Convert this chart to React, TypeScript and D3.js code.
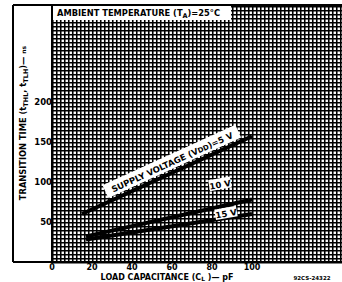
import * as d3 from "d3";

// load capacitance (pF) vs transition time (ns)
const capFive = [15, 100];
const timeFive = [60, 157];
const capTen = [17, 100];
const timeTen = [32, 78];
const capFifteen = [17, 100];
const timeFifteen = [28, 60];

const xTicks = [0, 20, 40, 60, 80, 100];
const yTicks = [50, 100, 150, 200];

const W = 342;
const H = 282;
const plot = { left: 52, right: 342, top: 5, bottom: 262 };
const FONT = "'DejaVu Sans', 'Liberation Sans', sans-serif";

export default function App() {
  const x = d3.scaleLinear().domain([0, 145]).range([plot.left, plot.right]);
  const y = d3.scaleLinear().domain([0, 321]).range([plot.bottom, plot.top]);

  const gridX = d3.range(0, 146, 2);
  const gridY = d3.range(0, 321, 5);

  const line = d3
    .line<[number, number]>()
    .x((d) => x(d[0]))
    .y((d) => y(d[1]));

  const series = [
    { cap: capFive, time: timeFive },
    { cap: capTen, time: timeTen },
    { cap: capFifteen, time: timeFifteen },
  ];

  const angle = (cap: number[], time: number[]) =>
    (Math.atan2(y(time[1]) - y(time[0]), x(cap[1]) - x(cap[0])) * 180) / Math.PI;

  const a5 = angle(capFive, timeFive);
  const at5 = (c: number) => timeFive[0] + ((c - capFive[0]) / (capFive[1] - capFive[0])) * (timeFive[1] - timeFive[0]);

  return (
    <svg
      width={W}
      height={H}
      style={{ position: "fixed", left: 0, top: 0, background: "#fff" }}
      fontFamily={FONT}
      fontWeight="bold"
    >
      {/* dense grid */}
      <g stroke="#000">
        {gridX.map((v) => (
          <line key={"gx" + v} x1={x(v) + 0.75} x2={x(v) + 0.75} y1={plot.top} y2={plot.bottom} strokeWidth={1.6} />
        ))}
        {gridY.map((v) => (
          <line key={"gy" + v} x1={plot.left} x2={plot.right} y1={Math.round(y(v)) + 0.75} y2={Math.round(y(v)) + 0.75} strokeWidth={1.6} />
        ))}
      </g>

      {/* frame */}
      <g stroke="#000" strokeWidth={1.5} shapeRendering="crispEdges">
        <line x1={13} x2={W} y1={plot.top} y2={plot.top} />
        <line x1={13} x2={13} y1={plot.top} y2={plot.bottom} />
        <line x1={13} x2={W} y1={plot.bottom} y2={plot.bottom} />
        <line x1={plot.left} x2={plot.left} y1={plot.top} y2={plot.bottom} />
      </g>

      {/* top condition label */}
      <rect x={plot.left + 1} y={plot.top + 1} width={178} height={14} fill="#fff" />
      <text x={57} y={16} fontSize={8.3}>
        AMBIENT TEMPERATURE (T<tspan fontSize={6.5} dy={2}>A</tspan>
        <tspan dy={-2}>)=25°C</tspan>
      </text>

      {/* curves */}
      {series.map((s, i) => (
        <path
          key={i}
          d={line(s.cap.map((c, j) => [c, s.time[j]] as [number, number])) ?? ""}
          stroke="#000"
          strokeWidth={4}
          fill="none"
        />
      ))}

      {/* curve labels */}
      <g transform={`translate(${x(60)},${y(at5(60)) - 11}) rotate(${a5})`}>
        <rect x={-73} y={-7.5} width={146} height={14} fill="#fff" />
        <text textAnchor="middle" y={3.5} fontSize={8.5}>
          SUPPLY VOLTAGE (V<tspan fontSize={7}>DD</tspan>)=5 V
        </text>
      </g>
      <g transform={`translate(${x(84)},${y(97)}) rotate(-10)`}>
        <rect x={-11} y={-6} width={22} height={11} fill="#fff" />
        <text textAnchor="middle" y={3.5} fontSize={8.5}>
          10 V
        </text>
      </g>
      <g transform={`translate(${x(87)},${y(61)}) rotate(-10)`}>
        <rect x={-11} y={-5.5} width={22} height={10.5} fill="#fff" />
        <text textAnchor="middle" y={3.5} fontSize={8.5}>
          15 V
        </text>
      </g>

      {/* axes labels */}
      {xTicks.map((v) => (
        <text key={"xt" + v} x={x(v)} y={270} textAnchor="middle" fontSize={8}>
          {v}
        </text>
      ))}
      {yTicks.map((v) => (
        <text key={"yt" + v} x={plot.left} y={y(v) + 3} textAnchor="end" fontSize={8.5}>
          {v}
        </text>
      ))}

      <text transform={`translate(26,123) rotate(-90)`} textAnchor="middle" fontSize={8.3}>
        TRANSITION TIME (t<tspan fontSize={6.5} dy={2}>THL</tspan>
        <tspan dy={-2}>, t</tspan>
        <tspan fontSize={6.5} dy={2}>TLH</tspan>
        <tspan dy={-2}>)— </tspan>
        <tspan fontSize={6}>ns</tspan>
      </text>

      <text x={167} y={280} textAnchor="middle" fontSize={8}>
        LOAD CAPACITANCE (C<tspan fontSize={6} dy={1}>L</tspan>
        <tspan dy={-1}> )— pF</tspan>
      </text>
      <text x={312} y={280} textAnchor="middle" fontSize={5.5}>
        92CS-24322
      </text>
    </svg>
  );
}
